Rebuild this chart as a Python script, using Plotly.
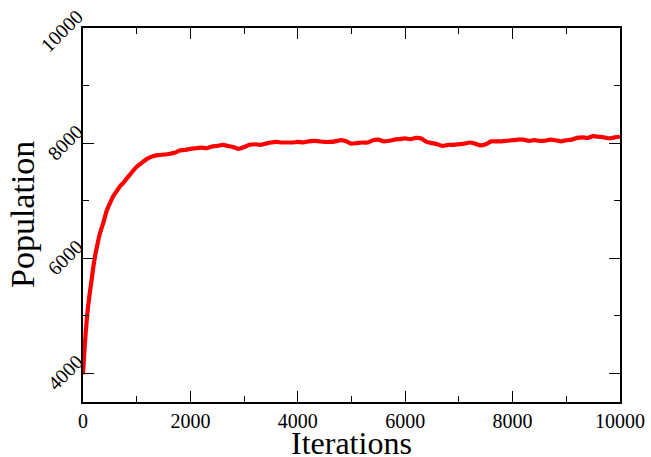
import plotly.graph_objects as go

iterations = [0, 25, 50, 75, 100, 130, 160, 190, 220, 260, 310, 380, 440, 500, 560, 630, 700, 750, 820, 900,
              1000, 1100, 1200, 1300, 1400, 1500, 1600, 1700, 1800, 1900,
              2000, 2100, 2200, 2300, 2400, 2500, 2600, 2700, 2800, 2900,
              3000, 3100, 3200, 3300, 3400, 3500, 3600, 3700, 3800, 3900,
              4000, 4100, 4200, 4300, 4400, 4500, 4600, 4700, 4800, 4900,
              5000, 5100, 5200, 5300, 5400, 5500, 5600, 5700, 5800, 5900,
              6000, 6100, 6200, 6300, 6400, 6500, 6600, 6700, 6800, 6900,
              7000, 7100, 7200, 7300, 7400, 7500, 7600, 7700, 7800, 7900,
              8000, 8100, 8200, 8300, 8400, 8500, 8600, 8700, 8800, 8900,
              9000, 9100, 9200, 9300, 9400, 9500, 9600, 9700, 9800, 9900, 10000]
population = [3980, 4380, 4700, 4980, 5200, 5420, 5620, 5830, 6010, 6200, 6410, 6620, 6820, 6950, 7070, 7170, 7260, 7310, 7390, 7480,
              7590, 7660, 7730, 7770, 7790, 7800, 7810, 7830, 7870, 7880,
              7900, 7910, 7920, 7910, 7940, 7950, 7970, 7950, 7930, 7900,
              7930, 7970, 7980, 7970, 7990, 8010, 8020, 8010, 8010, 8010,
              8020, 8010, 8030, 8040, 8030, 8020, 8020, 8030, 8050, 8030,
              7990, 8000, 8010, 8010, 8050, 8060, 8030, 8040, 8060, 8070,
              8080, 8070, 8090, 8080, 8020, 8000, 7980, 7950, 7970, 7970,
              7980, 7990, 8010, 7990, 7960, 7980, 8030, 8030, 8030, 8040,
              8050, 8060, 8060, 8040, 8050, 8040, 8040, 8060, 8050, 8030,
              8050, 8060, 8090, 8100, 8090, 8120, 8110, 8100, 8080, 8100, 8110]

x_ticks = [0, 2000, 4000, 6000, 8000, 10000]
y_ticks = [4000, 6000, 8000, 10000]
x_title = "Iterations"
y_title = "Population"

fig = go.Figure()
fig.add_trace(go.Scatter(x=iterations, y=population, mode="lines",
                         line=dict(color="#ff0000", width=4.2, shape="spline", smoothing=0.6),
                         showlegend=False))

font_family = "Liberation Serif"
axis_common = dict(
    showgrid=False, zeroline=False, showline=True, linecolor="black", linewidth=1.5,
    mirror="ticks", ticks="inside", ticklen=11, tickwidth=1.2, tickcolor="black",
    tickfont=dict(family=font_family, size=20, color="black"), automargin=False,
)
fig.update_layout(
    width=651, height=457,
    margin=dict(l=83, r=31, t=28, b=55),
    paper_bgcolor="white", plot_bgcolor="white",
    xaxis=dict(range=[0, 10000], tickvals=x_ticks, ticktext=[str(v) for v in x_ticks],
               minor=dict(ticks="inside", ticklen=6, tickcolor="black", dtick=1000, tick0=0, showgrid=False),
               **axis_common),
    yaxis=dict(range=[3500, 10000], tickvals=y_ticks, ticktext=[str(v) for v in y_ticks], tickangle=-45,
               ticklabelshift=-14, ticklabelstandoff=0,
               minor=dict(ticks="inside", ticklen=6, tickcolor="black", dtick=1000, tick0=0, showgrid=False),
               **axis_common),
    annotations=[
        dict(text=x_title, xref="paper", yref="paper", x=0.5, y=0, yshift=-41,
             xanchor="center", yanchor="middle", showarrow=False,
             font=dict(family=font_family, size=32, color="black")),
        dict(text=y_title, xref="paper", yref="paper", x=0, y=0.5, xshift=-61,
             xanchor="center", yanchor="middle", textangle=-90, showarrow=False,
             font=dict(family=font_family, size=34, color="black")),
    ],
)
fig.write_html("out.html")
